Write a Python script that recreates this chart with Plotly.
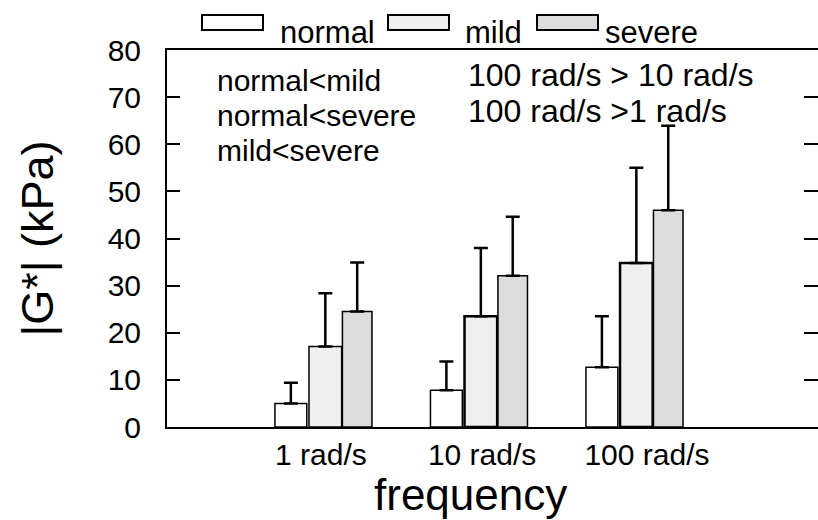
import plotly.graph_objects as go

# ---- data ----
categories = ["1 rad/s", "10 rad/s", "100 rad/s"]
groups = ["normal", "mild", "severe"]
normal_mean = [5.0, 7.8, 12.7]
normal_err = [4.4, 6.1, 10.8]
mild_mean = [17.1, 23.5, 34.8]
mild_err = [11.3, 14.5, 20.2]
severe_mean = [24.5, 32.1, 46.0]
severe_err = [10.4, 12.5, 17.9]
y_ticks = [0, 10, 20, 30, 40, 50, 60, 70, 80]
notes_left = ["normal<mild", "normal<severe", "mild<severe"]
notes_right = ["100 rad/s > 10 rad/s", "100 rad/s >1 rad/s"]
x_title = "frequency"
y_title = "|G*| (kPa)"

# ---- layout geometry (pixels) ----
W, H = 818, 520
L, R, T, B = 167, 818, 50, 427
FONT = "Liberation Sans, Arial, sans-serif"


def px(x):
    return (x - L) / (R - L)


def py(y):
    return (B - y) / (B - T)


xpos = list(range(len(categories)))
fills = ["#ffffff", "#efefef", "#dcdcdc"]
means = [normal_mean, mild_mean, severe_mean]
errs = [normal_err, mild_err, severe_err]
offsets = [-0.322, -0.103, 0.112]
widths = [0.205, 0.21, 0.19]
line_w = [[1.5, 1.5, 1.5], [1.5, 2.5, 2.5], [1.5, 1.5, 1.5]]

fig = go.Figure()
for i, g in enumerate(groups):
    fig.add_trace(go.Bar(
        name=g, x=xpos, y=means[i],
        offset=offsets[i], width=widths[i],
        marker=dict(color=fills[i], line=dict(color="#000000", width=line_w[i])),
        error_y=dict(type="data", array=errs[i], arrayminus=[0] * len(errs[i]),
                     symmetric=False, color="#000000", thickness=2.5, width=7),
        showlegend=False,
    ))
# empty trace so the mirrored right-hand tick axis is drawn
fig.add_trace(go.Scatter(x=[], y=[], yaxis="y2", showlegend=False, hoverinfo="skip"))

fig.update_layout(
    width=W, height=H,
    margin=dict(l=L, r=W - R, t=T, b=H - B),
    plot_bgcolor="#ffffff", paper_bgcolor="#ffffff",
    font=dict(family=FONT, color="#000000", size=30),
    barmode="overlay",
    xaxis=dict(range=[-1.016, 3.17], tickvals=[-0.026, 1.01, 2.07], ticktext=categories,
               showline=True, linecolor="#000000", linewidth=2, mirror=True,
               ticks="", showgrid=False, zeroline=False,
               tickfont=dict(size=30), ticklabelstandoff=0),
    yaxis=dict(range=[0, 80], tickvals=y_ticks, showline=True, linecolor="#000000",
               linewidth=2, ticks="inside", ticklen=13, tickwidth=2, tickcolor="#000000",
               showgrid=False, zeroline=False, tickfont=dict(size=30),
               ticklabelstandoff=18,
               title=dict(text=y_title, font=dict(size=45), standoff=40)),
    yaxis2=dict(range=[0, 80], tickvals=y_ticks, overlaying="y", side="right",
                showline=False, ticks="inside", ticklen=14, tickwidth=2,
                tickcolor="#000000", showticklabels=False, showgrid=False,
                zeroline=False),
)

# x-axis title
fig.add_annotation(text=x_title, xref="paper", yref="paper", x=px(470), y=py(494),
                   showarrow=False, font=dict(size=44), xanchor="center", yanchor="middle")

# notes, one line each
for k, t in enumerate(notes_left):
    fig.add_annotation(text=t, xref="paper", yref="paper",
                       x=px(215), y=py(80 + 35 * k), xanchor="left", yanchor="middle",
                       align="left", showarrow=False, font=dict(size=30))
for k, t in enumerate(notes_right):
    fig.add_annotation(text=t, xref="paper", yref="paper",
                       x=px(466), y=py(75 + 36 * k), xanchor="left", yanchor="middle",
                       align="left", showarrow=False, font=dict(size=32))

# custom legend (wide swatches)
legend_boxes = [(202, 263), (388, 449), (537, 598)]
legend_text_x = [278, 463, 603]
for i, g in enumerate(groups):
    x0, x1 = legend_boxes[i]
    fig.add_shape(type="rect", xref="paper", yref="paper",
                  x0=px(x0), x1=px(x1), y0=py(30), y1=py(15),
                  fillcolor=fills[i], line=dict(color="#000000", width=2))
    fig.add_annotation(text=g, xref="paper", yref="paper", x=px(legend_text_x[i]), y=py(33),
                       xanchor="left", yanchor="middle", showarrow=False,
                       font=dict(size=31))

fig.write_html("out.html")
